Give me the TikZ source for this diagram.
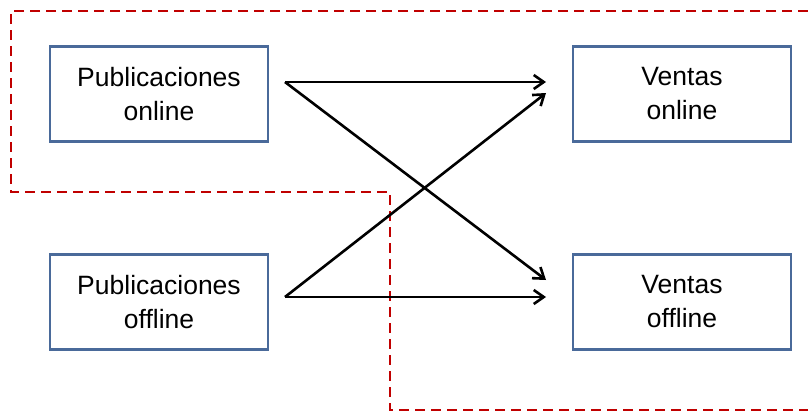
\documentclass[tikz,border=0pt]{standalone}
\usepackage{fontspec}
\setmainfont{Liberation Sans}
\usetikzlibrary{arrows.meta}
\definecolor{boxblue}{HTML}{4A6A9A}
\definecolor{zonered}{HTML}{C00000}
\tikzset{
  stagebox/.style={draw=boxblue, line width=2.5pt, minimum width=218pt, minimum height=95pt,
    inner sep=0pt, align=center, font=\fontsize{26.5}{34}\selectfont},
  flow/.style={draw=black, line width=2.6pt, -{Straight Barb[length=10pt,width=14pt,line width=2.6pt]}},
  zone/.style={draw=zonered, line width=2.6pt, dash pattern=on 10pt off 6pt}
}
\begin{document}
\begin{tikzpicture}[x=1pt,y=-1pt]
  \useasboundingbox (0,0) rectangle (808,415);
  % online zone boundary (open towards the right edge)
  \draw[zone] (808,11) -- (11,11) -- (11,192) -- (390,192) -- (390,410) -- (808,410);
  % sources and outcomes
  \node[stagebox] (pon)  at (159,94)  {Publicaciones\\online};
  \node[stagebox] (poff) at (159,302) {Publicaciones\\offline};
  \node[stagebox] (von)  at (682,94)  {Ventas\\online};
  \node[stagebox] (voff) at (682,302) {Ventas\\offline};
  % connector ends
  \coordinate (s1) at (285,82);
  \coordinate (s2) at (285,297);
  \coordinate (t1) at (546,82);
  \coordinate (t1b) at (546,93);
  \coordinate (t2) at (546,280);
  \coordinate (t2b) at (546,297);
  \draw[flow] (s1) -- (t1);
  \draw[flow] (s1) -- (t2);
  \draw[flow] (s2) -- (t1b);
  \draw[flow] (s2) -- (t2b);
\end{tikzpicture}
\end{document}
